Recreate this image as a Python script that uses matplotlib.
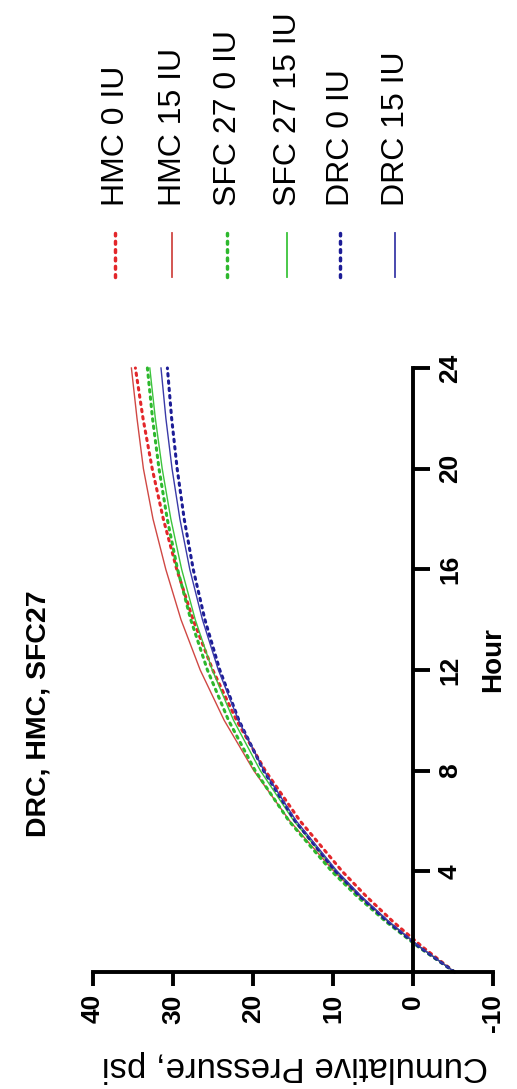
import matplotlib
matplotlib.use("Agg")
import matplotlib.pyplot as plt
from matplotlib.lines import Line2D

plt.rcParams['font.family'] = ['Liberation Sans', 'DejaVu Sans']
plt.rcParams['axes.unicode_minus'] = False

hours = [0, 1, 2, 3, 4, 6, 8, 10, 12, 14, 16, 18, 20, 22, 24]
hmc_0 = [-5.2, -1.17, 2.49, 5.82, 8.85, 14.11, 18.46, 22.06, 25.03, 27.49, 29.53, 31.21, 32.6, 33.75, 34.7]
hmc_15 = [-5.2, -0.82, 3.12, 6.67, 9.87, 15.4, 19.9, 23.6, 26.6, 29.0, 30.9, 32.5, 33.7, 34.5, 35.2]
sfc27_0 = [-5.2, -0.66, 3.38, 6.96, 10.15, 15.5, 19.73, 23.06, 25.7, 27.78, 29.43, 30.72, 31.75, 32.56, 33.2]
sfc27_15 = [-5.2, -0.84, 3.06, 6.53, 9.64, 14.89, 19.08, 22.43, 25.09, 27.22, 28.92, 30.27, 31.35, 32.21, 32.9]
drc_0 = [-5.2, -0.76, 3.16, 6.61, 9.67, 14.73, 18.68, 21.76, 24.15, 26.01, 27.47, 28.6, 29.48, 30.17, 30.7]
drc_15 = [-5.2, -0.86, 3.0, 6.43, 9.47, 14.59, 18.63, 21.82, 24.33, 26.32, 27.9, 29.14, 30.12, 30.89, 31.5]

series_labels = ["HMC 0 IU", "HMC 15 IU", "SFC 27 0 IU", "SFC 27 15 IU", "DRC 0 IU", "DRC 15 IU"]
series_data = [hmc_0, hmc_15, sfc27_0, sfc27_15, drc_0, drc_15]
pressure_ticks = [40, 30, 20, 10, 0, -10]
hour_ticks = [4, 8, 12, 16, 20, 24]

colors = ['#e3262a', '#d04844', '#2db82d', '#3cc43c', '#1c1c96', '#3a3aa8']
dotted = (0, (0.8, 1.6))
styles = [dotted, '-', dotted, '-', dotted, '-']
widths = [2.2, 1.0, 2.2, 1.0, 2.2, 1.0]

W, H = 517, 1089
fig = plt.figure(figsize=(W / 100, H / 100), dpi=100)


def fx(x):
    return x / W


def fy(y):
    return 1 - y / H


# chart is drawn turned a quarter turn: hour runs up, pressure runs right-to-left
ax = fig.add_axes([fx(93), fy(972), 400 / W, 604 / H])
for data, c, ls, lw in zip(series_data, colors, styles, widths):
    ax.plot(data, hours, color=c, linestyle=ls, linewidth=lw, clip_on=False,
            dash_capstyle='round')

ax.set_xlim(40, -10)
ax.set_ylim(0, 24)
ax.spines['top'].set_visible(False)
ax.spines['left'].set_visible(False)
ax.spines['right'].set_position(('data', 0))
ax.spines['right'].set_linewidth(2.8)
ax.spines['bottom'].set_linewidth(2.8)
ax.yaxis.tick_right()
ax.set_xticks(pressure_ticks)
ax.set_xticklabels([str(v) for v in pressure_ticks])
ax.set_yticks(hour_ticks)
ax.set_yticklabels([str(v) for v in hour_ticks])
ax.tick_params(width=2.8, length=10, direction='out', labelsize=19)
ax.tick_params(axis='x', pad=6)
ax.tick_params(axis='y', pad=6, length=12)
for t in ax.get_xticklabels():
    t.set_rotation(90)
    t.set_fontweight('bold')
    t.set_ha('center')
    t.set_va('top')
for t in ax.get_yticklabels():
    t.set_rotation(90)
    t.set_fontweight('bold')
    t.set_ha('left')
    t.set_va('center')

fig.text(fx(295), fy(1066), "Cumulative Pressure, psi", rotation=180,
         ha='center', va='center', fontsize=25)
fig.text(fx(493), fy(660), "Hour", rotation=90, ha='center', va='center',
         fontsize=20, fontweight='bold')
fig.text(fx(39), fy(714), "DRC, HMC, SFC27", rotation=90, ha='center', va='center',
         fontsize=20.5, fontweight='bold')

# legend, stacked as rotated columns
legend_x = [115, 172, 227, 287, 340, 395]
for x, lab, c, ls, lw in zip(legend_x, series_labels, colors, styles, widths):
    fig.add_artist(Line2D([fx(x), fx(x)], [fy(277), fy(233)], color=c,
                          linestyle=ls, linewidth=lw + 0.3, dash_capstyle='round',
                          transform=fig.transFigure))
    fig.text(fx(x + 1), fy(206), lab, rotation=90, ha='center', va='bottom', fontsize=23)

fig.savefig("out.png", dpi=100)
